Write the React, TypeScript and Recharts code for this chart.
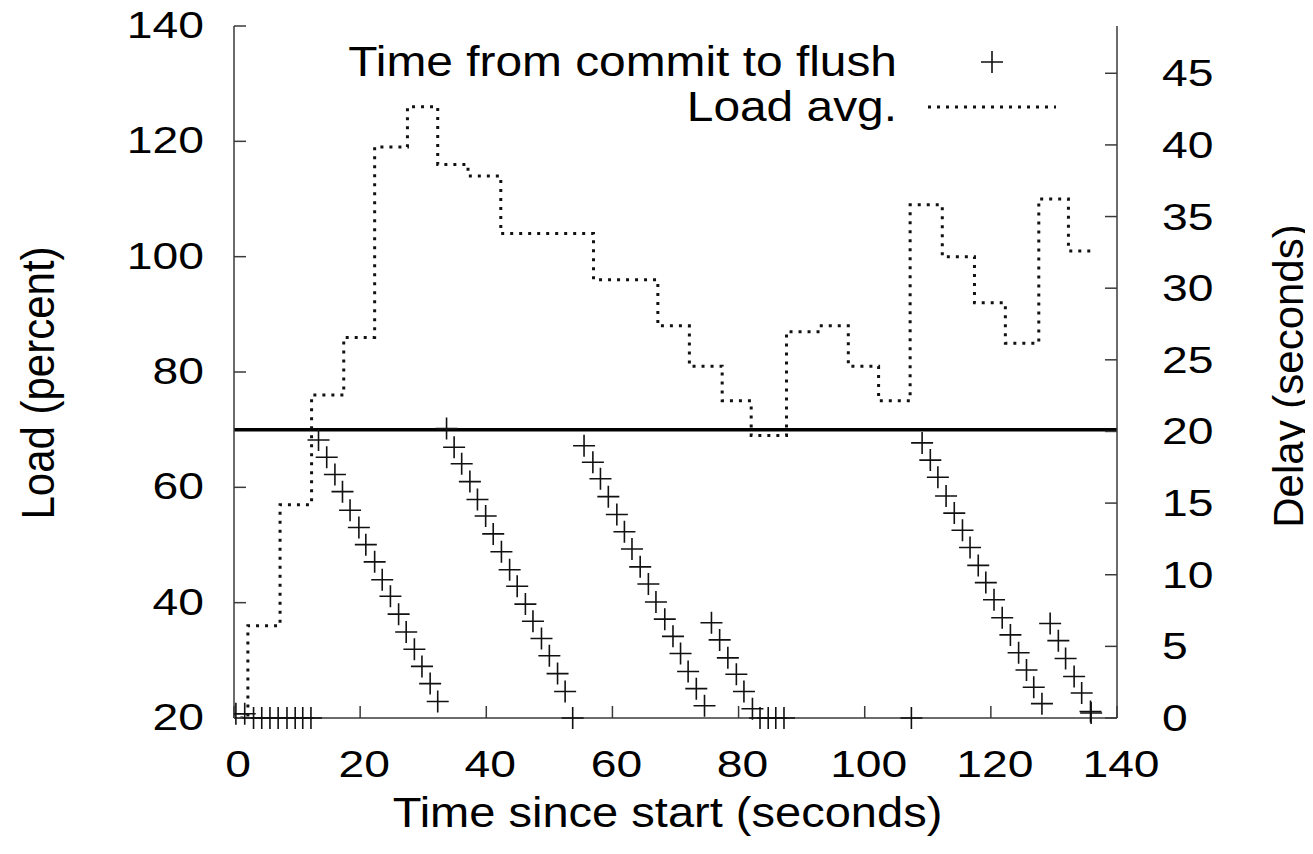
import React from 'react';
import { ComposedChart, Line, Scatter, XAxis, YAxis, ReferenceLine, Customized } from 'recharts';

// ---- data ----
const loadTimes = [1.0, 2.2, 7.3, 12.3, 17.4, 22.3, 27.5, 32.3, 37.1, 42.3, 57.0, 67.2, 72.2, 77.4, 82.0, 87.6, 92.6, 97.4, 102.2, 107.2, 112.3, 117.4, 122.3, 127.6, 132.3, 135.8];
const loadValues = [20, 36, 57, 76, 86, 119, 126, 116, 114, 104, 96, 88, 81, 75, 69, 87, 88, 81, 75, 109, 100, 92, 85, 110, 101, 101];

const flushTimes = [
  0.3, 1.7, 3.1, 4.4, 5.7, 7.0, 8.4, 9.7, 10.9, 12.2,
  13.4, 14.7, 16.0, 17.2, 18.4, 19.8, 20.9, 22.3, 23.5, 24.8, 26.1, 27.3, 28.6, 29.8, 31.1, 32.3,
  33.7, 34.9, 36.1, 37.4, 38.6, 39.9, 41.1, 42.4, 43.7, 44.9, 46.2, 47.4, 48.75, 50.0, 51.3, 52.5, 53.7,
  55.5, 56.9, 58.1, 59.35, 60.7, 61.9, 63.1, 64.4, 65.7, 66.9, 68.3, 69.6, 70.8, 72.0, 73.3, 74.6,
  75.7, 77.0, 78.3, 79.65, 80.85, 82.2, 83.4, 84.7, 85.9, 87.2,
  107.4, 109.1, 110.4, 111.6, 112.9, 114.2, 115.5, 116.7, 118.0, 119.2, 120.5, 121.8, 123.1, 124.4, 125.65, 126.8, 128.1,
  129.4, 130.7, 131.85, 133.2, 134.4, 135.8, 135.9,
];
const flushDelays = [
  0.3, 0.3, 0, 0, 0, 0, 0, 0, 0, 0,
  19.4, 18.2, 17.0, 15.8, 14.5, 13.3, 12.1, 10.9, 9.65, 8.5, 7.25, 6.0, 4.8, 3.6, 2.4, 1.15,
  20.2, 18.9, 17.75, 16.5, 15.25, 14.1, 12.85, 11.6, 10.35, 9.2, 7.95, 6.75, 5.55, 4.35, 3.1, 1.85, 0,
  19.0, 17.85, 16.7, 15.45, 14.2, 13.0, 11.8, 10.55, 9.35, 8.1, 6.9, 5.7, 4.5, 3.25, 2.05, 0.85,
  6.65, 5.45, 4.2, 3.05, 1.85, 0.65, 0, 0, 0, 0,
  0, 19.2, 18.0, 16.8, 15.5, 14.3, 13.1, 11.9, 10.65, 9.45, 8.25, 7.0, 5.8, 4.55, 3.35, 2.15, 1.0,
  6.6, 5.4, 4.15, 2.9, 1.75, 0.45, 0.35,
];

const xTicks = [0, 20, 40, 60, 80, 100, 120, 140];
const loadTicks = [20, 40, 60, 80, 100, 120, 140];
const delayTicks = [0, 5, 10, 15, 20, 25, 30, 35, 40, 45];
const thresholdLoad = 70;

const xTitle = 'Time since start (seconds)';
const leftTitle = 'Load (percent)';
const rightTitle = 'Delay (seconds)';
const flushName = 'Time from commit to flush';
const loadName = 'Load avg.';

const loadData = loadTimes.map((x, i) => ({ x, load: loadValues[i] }));
const flushData = flushTimes.map((x, i) => ({ x, delay: flushDelays[i] }));

// ---- style ----
const FONT = "'Liberation Sans', Arial, Helvetica, sans-serif";
const FRAME = '#3a3a3a';
const INK = '#111';
const TICK_FS = 37;
const TICK_SX = 1.25;
const DOTS = '3 6';

const Cross = (props: any) => {
  const { cx, cy } = props;
  if (cx == null || cy == null) return <g />;
  return (
    <path
      d={`M${cx - 11},${cy}h22M${cx},${cy - 11}v22`}
      stroke={INK}
      strokeWidth={1.6}
      fill="none"
    />
  );
};

const BottomTick = (p: any) => (
  <text
    transform={`translate(${p.x + 4},${p.y}) scale(${TICK_SX},1)`}
    textAnchor="middle"
    fontSize={TICK_FS}
    fontFamily={FONT}
    fill="#000"
  >
    {p.payload.value}
  </text>
);

const LeftTick = (p: any) => (
  <text
    transform={`translate(${p.x},${p.y + 12}) scale(${TICK_SX},1)`}
    textAnchor="end"
    fontSize={TICK_FS}
    fontFamily={FONT}
    fill="#000"
  >
    {p.payload.value}
  </text>
);

const RightTick = (p: any) => (
  <text
    transform={`translate(${p.x},${p.y + 13}) scale(${TICK_SX},1)`}
    textAnchor="start"
    fontSize={TICK_FS}
    fontFamily={FONT}
    fill="#000"
  >
    {p.payload.value}
  </text>
);

const EmptyTick = () => <g />;

const XTitle = (p: any) => {
  const vb = p.viewBox;
  const cx = vb.x + vb.width / 2 - 8;
  const y = vb.y + 109;
  return (
    <text
      transform={`translate(${cx},${y}) scale(1.12,1)`}
      textAnchor="middle"
      fontSize={42}
      fontFamily={FONT}
      fill="#000"
    >
      {xTitle}
    </text>
  );
};

const LeftTitle = (p: any) => {
  const vb = p.viewBox;
  const cy = vb.y + vb.height / 2 + 11;
  return (
    <text
      transform={`translate(38,${cy}) scale(1.08,1) rotate(-90)`}
      textAnchor="middle"
      dominantBaseline="central"
      fontSize={42}
      fontFamily={FONT}
      fill="#000"
    >
      {leftTitle}
    </text>
  );
};

const RightTitle = (p: any) => {
  const vb = p.viewBox;
  const cy = vb.y + vb.height / 2 + 4;
  return (
    <text
      transform={`translate(${vb.x + 171},${cy}) scale(1.0,1) rotate(-90)`}
      textAnchor="middle"
      dominantBaseline="central"
      fontSize={42}
      fontFamily={FONT}
      fill="#000"
    >
      {rightTitle}
    </text>
  );
};

const LegendBox = () => (
  <g fontFamily={FONT} fill="#000">
    <text transform="translate(897,76) scale(1.14,1)" textAnchor="end" fontSize={42}>
      {flushName}
    </text>
    <path d="M981,62h22M992,51v22" stroke={INK} strokeWidth={1.6} fill="none" />
    <text transform="translate(897,121) scale(1.14,1)" textAnchor="end" fontSize={42}>
      {loadName}
    </text>
    <line x1={928} y1={107} x2={1056} y2={107} stroke={INK} strokeWidth={3} strokeDasharray={DOTS} />
  </g>
);

export default function App() {
  return (
    <div style={{ width: 1313, height: 854, margin: '-8px 0 0 -8px' }}>
      <ComposedChart
        width={1313}
        height={854}
        margin={{ top: 26, right: 0, bottom: 0, left: 0 }}
        style={{ background: '#fff' }}
      >
        <XAxis
          xAxisId="bottom"
          dataKey="x"
          type="number"
          domain={[0, 140]}
          ticks={xTicks}
          interval={0}
          height={136}
          tickSize={-12}
          tickMargin={71}
          tick={BottomTick}
          axisLine={{ stroke: FRAME, strokeWidth: 1.5 }}
          tickLine={{ stroke: FRAME, strokeWidth: 1.5 }}
          label={<XTitle />}
          allowDataOverflow
        />
        <XAxis
          xAxisId="top"
          orientation="top"
          type="number"
          domain={[0, 140]}
          ticks={xTicks}
          interval={0}
          height={0}
          tickSize={-12}
          tick={EmptyTick}
          axisLine={{ stroke: FRAME, strokeWidth: 1.5 }}
          tickLine={{ stroke: FRAME, strokeWidth: 1.5 }}
          allowDataOverflow
        />
        <YAxis
          yAxisId="left"
          orientation="left"
          type="number"
          domain={[20, 140]}
          ticks={loadTicks}
          interval={0}
          width={234}
          tickSize={-12}
          tickMargin={42}
          tick={LeftTick}
          axisLine={{ stroke: FRAME, strokeWidth: 1.5 }}
          tickLine={{ stroke: FRAME, strokeWidth: 1.5 }}
          label={<LeftTitle />}
          allowDataOverflow
        />
        <YAxis
          yAxisId="right"
          orientation="right"
          type="number"
          domain={[0, 48.3]}
          ticks={delayTicks}
          interval={0}
          width={196}
          tickSize={-12}
          tickMargin={57}
          tick={RightTick}
          axisLine={{ stroke: FRAME, strokeWidth: 1.5 }}
          tickLine={{ stroke: FRAME, strokeWidth: 1.5 }}
          label={<RightTitle />}
        />
        <ReferenceLine
          xAxisId="bottom"
          yAxisId="left"
          y={thresholdLoad}
          stroke="#000"
          strokeWidth={3.5}
        />
        <Line
          xAxisId="bottom"
          yAxisId="left"
          data={loadData}
          dataKey="load"
          type="stepAfter"
          stroke={INK}
          strokeWidth={3}
          strokeDasharray={DOTS}
          dot={false}
          activeDot={false}
          isAnimationActive={false}
          name={loadName}
        />
        <Scatter
          xAxisId="bottom"
          yAxisId="right"
          data={flushData}
          dataKey="delay"
          shape={Cross}
          isAnimationActive={false}
          name={flushName}
        />
        <Customized component={LegendBox} />
      </ComposedChart>
    </div>
  );
}
